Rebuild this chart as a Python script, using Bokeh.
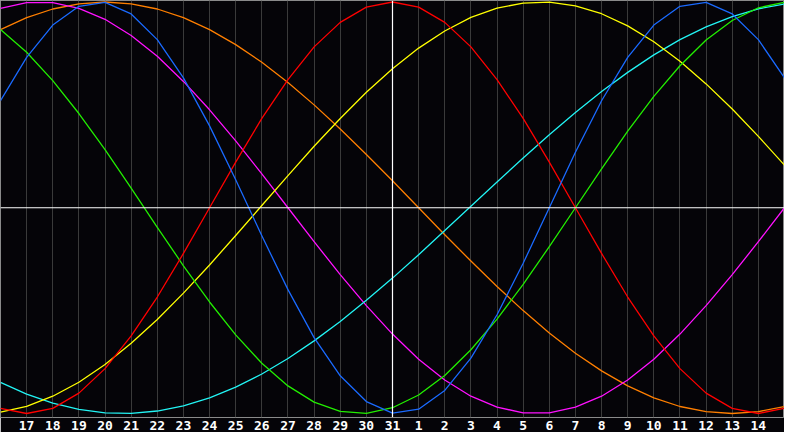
from bokeh.plotting import figure
from bokeh.models import Range1d, FixedTicker, Span
from bokeh.embed import file_html
from bokeh.resources import INLINE

# Day labels for the 31 sample positions (index 0..30)
days = [16, 17, 18, 19, 20, 21, 22, 23, 24, 25, 26, 27, 28, 29, 30, 31,
        1, 2, 3, 4, 5, 6, 7, 8, 9, 10, 11, 12, 13, 14, 15]
today = 31

# Curve values (-1..1) read at each day
physical = [0.520, 0.731, 0.888, 0.979, 0.998, 0.942, 0.817, 0.631, 0.398, 0.136,
            -0.136, -0.398, -0.631, -0.817, -0.942, -0.998, -0.979, -0.888, -0.731, -0.520,
            -0.270, 0.000, 0.270, 0.520, 0.731, 0.888, 0.979, 0.998, 0.942, 0.817, 0.631]
emotional = [-0.975, -1.000, -0.975, -0.901, -0.782, -0.623, -0.434, -0.222, 0.000, 0.222,
             0.434, 0.623, 0.782, 0.901, 0.975, 1.000, 0.975, 0.901, 0.782, 0.623,
             0.434, 0.222, 0.000, -0.222, -0.434, -0.623, -0.782, -0.901, -0.975, -1.000, -0.975]
intellectual = [0.866, 0.756, 0.618, 0.458, 0.282, 0.095, -0.095, -0.282, -0.458, -0.618,
                -0.756, -0.866, -0.945, -0.990, -0.999, -0.972, -0.910, -0.815, -0.690, -0.541,
                -0.372, -0.189, 0.000, 0.189, 0.372, 0.541, 0.690, 0.815, 0.910, 0.972, 0.999]
intuitive = [0.969, 0.997, 0.997, 0.969, 0.916, 0.837, 0.736, 0.614, 0.476, 0.325,
             0.165, 0.000, -0.165, -0.325, -0.476, -0.614, -0.736, -0.837, -0.916, -0.969,
             -0.997, -0.997, -0.969, -0.916, -0.837, -0.736, -0.614, -0.476, -0.325, -0.165, 0.000]
aesthetic = [-0.993, -0.965, -0.916, -0.848, -0.762, -0.659, -0.543, -0.415, -0.278, -0.135,
             0.011, 0.156, 0.299, 0.434, 0.561, 0.676, 0.776, 0.859, 0.925, 0.970,
             0.995, 0.999, 0.981, 0.943, 0.884, 0.807, 0.712, 0.602, 0.480, 0.347, 0.207]
awareness = [0.866, 0.924, 0.966, 0.991, 1.000, 0.991, 0.966, 0.924, 0.866, 0.793,
             0.707, 0.609, 0.500, 0.383, 0.259, 0.131, 0.000, -0.131, -0.259, -0.383,
             -0.500, -0.609, -0.707, -0.793, -0.866, -0.924, -0.966, -0.991, -1.000, -0.991, -0.966]
spiritual = [-0.849, -0.906, -0.950, -0.980, -0.997, -0.999, -0.988, -0.963, -0.924, -0.872,
             -0.808, -0.733, -0.647, -0.553, -0.450, -0.342, -0.228, -0.111, 0.007, 0.125,
             0.242, 0.355, 0.463, 0.565, 0.658, 0.743, 0.817, 0.879, 0.929, 0.967, 0.990]

series = [
    (awareness, "#ff7f00"),
    (intuitive, "#ff11ff"),
    (spiritual, "#22f4f4"),
    (aesthetic, "#ffff00"),
    (intellectual, "#22ee00"),
    (emotional, "#ff0000"),
    (physical, "#1a6aff"),
]

idx = list(range(len(days)))

p = figure(width=784, height=432,
           x_range=Range1d(0, len(days) - 1),
           y_range=Range1d(-1.0195, 1.0073),
           output_backend="svg", toolbar_location=None,
           y_axis_location=None,
           background_fill_color="#050408", border_fill_color="#050408",
           min_border_left=0, min_border_right=0, min_border_top=0, min_border_bottom=0,
           outline_line_color="#8a8a8a", outline_line_width=1)

inner = idx[1:-1]
p.xaxis.ticker = FixedTicker(ticks=inner)
p.xaxis.major_label_overrides = {i: str(days[i]) for i in inner}
p.xaxis.axis_line_color = None
p.xaxis.major_tick_line_color = None
p.xaxis.minor_tick_line_color = None
p.xaxis.major_tick_in = 0
p.xaxis.major_tick_out = 0
p.xaxis.major_label_standoff = 3
p.xaxis.major_label_text_color = "white"
p.xaxis.major_label_text_font = "DejaVu Sans Mono"
p.xaxis.major_label_text_font_style = "bold"
p.xaxis.major_label_text_font_size = "13px"

p.xgrid.ticker = FixedTicker(ticks=inner)
p.xgrid.grid_line_color = "#3a3a3a"
p.xgrid.grid_line_width = 1
p.ygrid.visible = False

p.add_layout(Span(location=0, dimension="width", line_color="white", line_width=1.2))
p.add_layout(Span(location=days.index(today), dimension="height", line_color="white", line_width=1.2))

for vals, col in series:
    p.line(idx, vals, line_color=col, line_width=1.3, line_join="round")

open("out.html", "w").write(file_html(p, INLINE))
